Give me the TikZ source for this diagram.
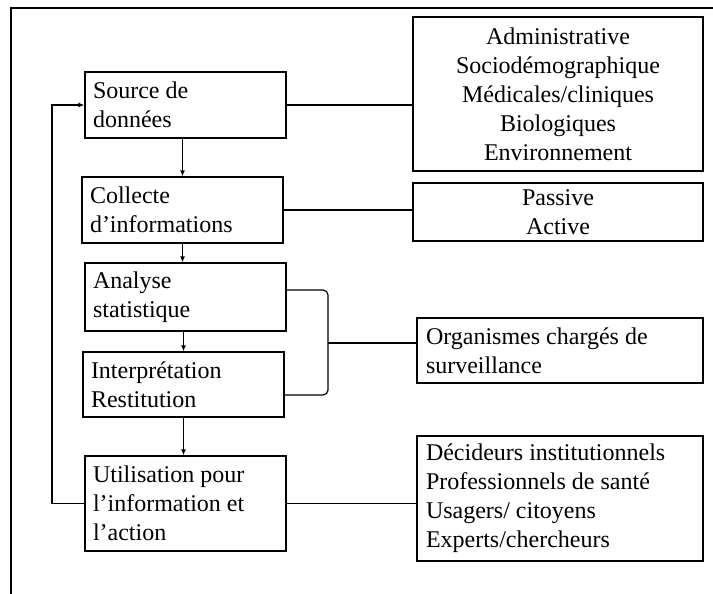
\documentclass[tikz,border=0pt]{standalone}
\usepackage{fontspec}
\setmainfont{Liberation Serif}
\usetikzlibrary{arrows.meta}
\begin{document}
\begin{tikzpicture}[x=1pt,y=-1pt,
 box/.style={draw, line width=1.2pt, inner ysep=0pt, inner xsep=8pt, font=\fontsize{24}{29}\selectfont},
 lbox/.style={box, align=flush left},
 cbox/.style={box, align=flush center},
 conn/.style={line width=1.2pt},
 arr/.style={conn, -{Latex[length=6pt,width=5pt]}},
 framestyle/.style={line width=2.6pt}]
\useasboundingbox (0,0) rectangle (713,594);
% outer frame
\draw[framestyle] (11,594) -- (11,8) -- (713,8);
% left column
\node[lbox, text width=185pt, minimum height=66pt] (src) at (185.5,105) {Source de\\données};
\node[lbox, text width=185pt, minimum height=66pt] (col) at (182.5,210) {Collecte\\d’informations};
\node[lbox, text width=185pt, minimum height=68pt] (ana) at (185.5,297) {Analyse\\statistique};
\node[lbox, text width=185pt, minimum height=65pt] (int) at (183.5,384.5) {Interprétation\\Restitution};
\node[lbox, text width=185pt, minimum height=95pt] (uti) at (185.5,503.5) {Utilisation pour\\l’information et\\l’action};
% right column
\node[cbox, text width=274pt, minimum height=154pt] (r1) at (558,94) {Administrative\\Sociodémographique\\Médicales/cliniques\\Biologiques\\Environnement};
\node[cbox, text width=274pt, minimum height=58pt] (r2) at (558,212) {Passive\\Active};
\node[lbox, inner xsep=9pt, text width=268pt, minimum height=65pt] (r3) at (560,350.5) {Organismes chargés de\\surveillance};
\node[lbox, inner xsep=9pt, text width=268pt, minimum height=125pt] (r4) at (560,498.5) {Décideurs institutionnels\\Professionnels de santé\\Usagers/ citoyens\\Experts/chercheurs};
% vertical arrows
\draw[arr] (col.north |- src.south) -- (col.north);
\draw[arr] (col.south) -- (col.south |- ana.north);
\draw[arr] (int.north |- ana.south) -- (int.north);
\draw[arr] (int.south) -- (int.south |- uti.north);
% horizontal links
\draw[conn] (src.east) -- (src.east -| r1.west);
\draw[conn] (col.east) -- (col.east -| r2.west);
\draw[conn] (uti.east) -- (uti.east -| r4.west);
% bracket
\coordinate (bx) at (328,343);
\draw[conn, rounded corners=5pt] ([yshift=7pt]ana.east) -| (bx) |- ([yshift=-10.5pt]int.east);
\draw[conn] (bx) -- (bx -| r3.west);
% feedback loop
\coordinate (lp) at (52,0);
\draw[arr] (uti.west) -- (uti.west -| lp) |- (src.west);
\end{tikzpicture}
\end{document}
